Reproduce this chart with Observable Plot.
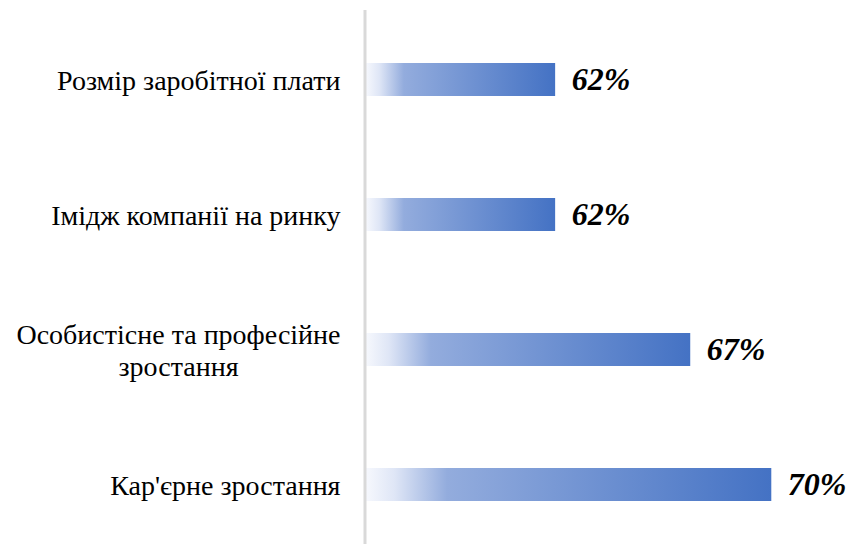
<!DOCTYPE html>
<html>
<head>
<meta charset="utf-8">
<script src="https://cdn.jsdelivr.net/npm/d3@7"></script>
<script src="https://cdn.jsdelivr.net/npm/@observablehq/plot@0.6"></script>
<style>
  html, body { margin: 0; padding: 0; background: #fff; font-family: "Liberation Serif", serif; }
  #chart svg { display: block; }
  svg text, svg tspan { font-family: "Liberation Serif", serif !important; }
</style>
</head>
<body>
<div id="chart"></div>
<script>
const categories = [
  "Розмір заробітної плати",
  "Імідж компанії на ринку",
  "Особистісне та професійне\nзростання",
  "Кар'єрне зростання"
];
const values = [62, 62, 67, 70];
const valueLabels = ["62%", "62%", "67%", "70%"];

const data = categories.map((c, i) => ({category: c, value: values[i], label: valueLabels[i]}));
const xMin = 55;
const FONT = "Liberation Serif";

const plot = Plot.plot({
  width: 851,
  height: 544,
  marginLeft: 366,
  marginRight: 0,
  marginTop: 10,
  marginBottom: 0,
  x: {domain: [xMin, 72.95], axis: null},
  y: {domain: categories, range: [11.5, 551.5], padding: 0, axis: null},
  marks: [
    Plot.barX(data, {
      x1: xMin, x2: "value", y: "category",
      insetTop: 51, insetBottom: 51,
      fill: "url(#barGrad)"
    }),
    Plot.ruleX([xMin], {stroke: "#d9d9d9", strokeWidth: 3, dx: -1.5}),
    Plot.text(data, {
      x: "value", y: "category", text: "label",
      dx: 16, textAnchor: "start", fontFamily: FONT,
      fontSize: 32, fontWeight: "bold", fontStyle: "italic", fill: "#000"
    }),
    Plot.text(data, {
      x: xMin, y: "category", text: "category",
      dx: -26, textAnchor: "end", lineHeight: 1.15, fontFamily: FONT,
      fontSize: 28, fill: "#000"
    })
  ]
});

// root font attribute (Plot sets system-ui by default)
plot.setAttribute("font-family", FONT);

const svg = d3.select(plot);
const defs = svg.insert("defs", ":first-child");
const grad = defs.append("linearGradient").attr("id", "barGrad")
  .attr("x1", "0").attr("x2", "1").attr("y1", "0").attr("y2", "0");
[[0, "#f6f8fd"], [0.07, "#dfe6f6"], [0.2, "#93acdd"], [1, "#4472c4"]]
  .forEach(([o, c]) => grad.append("stop").attr("offset", o).attr("stop-color", c));
svg.selectAll("text").attr("font-family", FONT);

document.getElementById("chart").appendChild(plot);

// center the lines of multi-line category labels relative to each other
svg.selectAll("text").each(function() {
  const tspans = this.querySelectorAll("tspan");
  if (tspans.length > 1) {
    const widths = Array.from(tspans, t => t.getComputedTextLength());
    const maxW = Math.max(...widths);
    this.setAttribute("text-anchor", "middle");
    tspans.forEach(t => t.setAttribute("x", -maxW / 2));
  }
});
</script>
</body>
</html>
